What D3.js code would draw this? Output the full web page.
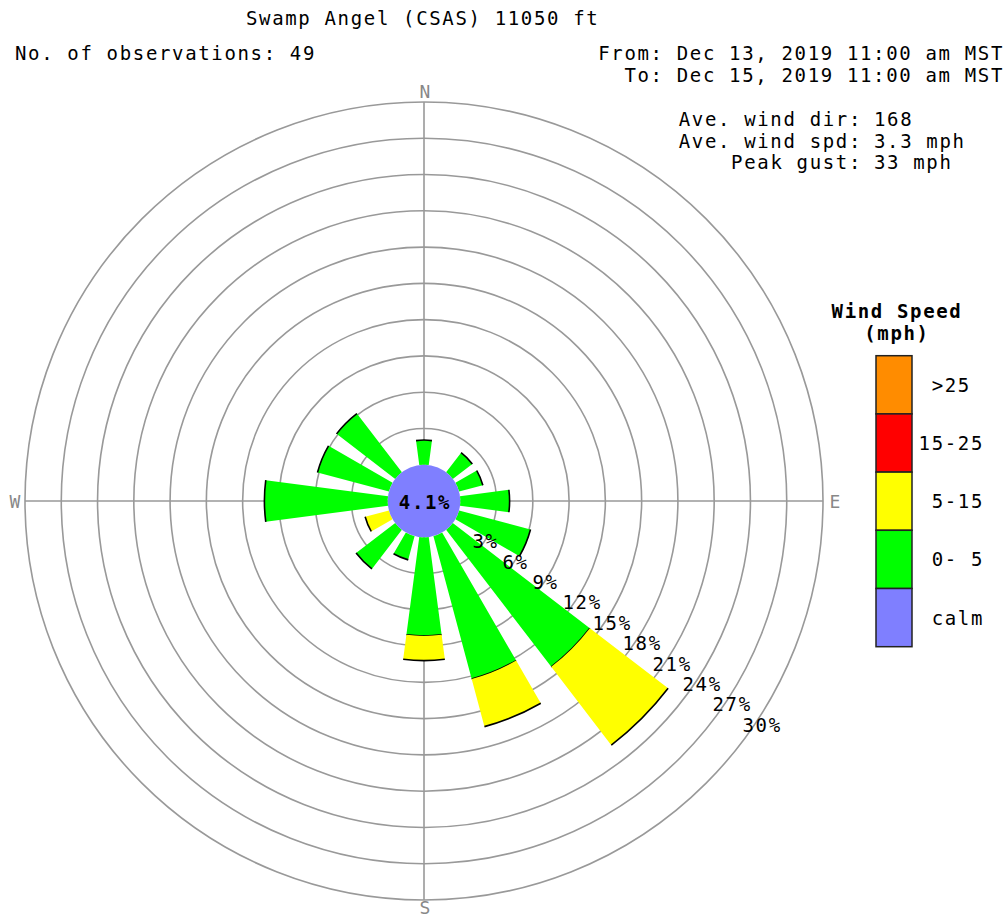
<!DOCTYPE html>
<html>
<head>
<meta charset="utf-8">
<script src="https://cdn.jsdelivr.net/npm/d3@7"></script>
<style>
  html, body { margin: 0; padding: 0; background: #fff; }
  svg { display: block; }
  text { font-family: "DejaVu Sans Mono", "Liberation Mono", monospace; font-size: 19px; letter-spacing: 1.65px; fill: #000; }
</style>
</head>
<body>
<script>
// ---------------- data ----------------
const title = "Swamp Angel (CSAS) 11050 ft";
const obsLabel = "No. of observations: 49";
const fromLabel = "From: Dec 13, 2019 11:00 am MST";
const toLabel = "To: Dec 15, 2019 11:00 am MST";
const statLabels = ["Ave. wind dir:", "Ave. wind spd:", "Peak gust:"];
const statValues = ["168", "3.3 mph", "33 mph"];

const directions = ["N","NNE","NE","ENE","E","ESE","SE","SSE","S","SSW","SW","WSW","W","WNW","NW","NNW"];
const calmPct = 4.1;
const speed0to5   = [2.04, 0, 2.04, 2.04, 4.08, 6.12, 14.29, 12.24, 8.16, 2.04, 4.08, 0, 10.2, 6.12, 6.12, 0];
const speed5to15  = [0, 0, 0, 0, 0, 0, 8.16, 4.08, 2.04, 0, 0, 2.04, 0, 0, 0, 0];
const speed15to25 = [0, 0, 0, 0, 0, 0, 0, 0, 0, 0, 0, 0, 0, 0, 0, 0];
const speedOver25 = [0, 0, 0, 0, 0, 0, 0, 0, 0, 0, 0, 0, 0, 0, 0, 0];

const ringTicks = [3, 6, 9, 12, 15, 18, 21, 24, 27, 30];
const compassLabels = ["N", "E", "S", "W"];
const compassAngles = [0, 90, 180, 270];

const legendTitle = ["Wind Speed", "(mph)"];
const legendKeys = [">25", "15-25", "5-15", "0- 5", "calm"];
const legendColors = ["#ff8c00", "#ff0000", "#ffff00", "#00ff00", "#7f7fff"];

// ---------------- layout ----------------
const W = 1008, H = 917;
const cx = 424, cy = 501, R = 399, r0 = R / 11;

const svg = d3.select("body").append("svg").attr("width", W).attr("height", H);

// header
svg.append("text").attr("x", 246).attr("y", 25).text(title);
svg.append("text").attr("x", 15).attr("y", 60).text(obsLabel);
svg.append("text").attr("x", 1004).attr("y", 60).attr("text-anchor", "end").text(fromLabel);
svg.append("text").attr("x", 1004).attr("y", 82).attr("text-anchor", "end").text(toLabel);
statLabels.forEach((s, i) => {
  const y = 126 + i * 21.5;
  svg.append("text").attr("x", 862).attr("y", y).attr("text-anchor", "end").text(s);
  svg.append("text").attr("x", 874).attr("y", y).text(statValues[i]);
});

// scales
const rScale = d3.scaleLinear().domain([0, 30]).range([r0, R]);
const aScale = d3.scaleBand().domain(directions)
  .range([-Math.PI / 16, 2 * Math.PI - Math.PI / 16])
  .paddingInner(1 / 3).paddingOuter(1 / 6);

const g = svg.append("g").attr("transform", `translate(${cx},${cy})`);

// grid rings
g.selectAll("circle.ring").data(ringTicks).join("circle")
  .attr("class", "ring")
  .attr("r", d => rScale(d))
  .attr("fill", "none").attr("stroke", "#999").attr("stroke-width", 1.6);

// cross lines
g.append("line").attr("x1", 0).attr("x2", 0).attr("y1", -R).attr("y2", R)
  .attr("stroke", "#999").attr("stroke-width", 1.6);
g.append("line").attr("x1", -R).attr("x2", R).attr("y1", 0).attr("y2", 0)
  .attr("stroke", "#999").attr("stroke-width", 1.6);

// compass labels
compassLabels.forEach((t, i) => {
  const a = compassAngles[i] * Math.PI / 180;
  const rr = t === "S" ? R + 7 : R + 11;
  g.append("text")
    .attr("x", Math.sin(a) * rr + 0.8).attr("y", -Math.cos(a) * rr)
    .attr("text-anchor", "middle").attr("dominant-baseline", "central")
    .style("fill", "#888").style("font-size", "18px").style("letter-spacing", "0px")
    .text(t);
});

// stacked petals
const keys = ["s0", "s1", "s2", "s3"];
const keyColors = ["#00ff00", "#ffff00", "#ff0000", "#ff8c00"];
const table = directions.map((d, i) => ({
  dir: d, s0: speed0to5[i], s1: speed5to15[i], s2: speed15to25[i], s3: speedOver25[i]
}));
const stacked = d3.stack().keys(keys)(table);

const arc = d3.arc();
stacked.forEach((layer, li) => {
  const segs = layer.map(s => ({ dir: s.data.dir, y0: s[0], y1: s[1] })).filter(s => s.y1 > s.y0);
  const gg = g.append("g");
  gg.selectAll("path.seg").data(segs).join("path")
    .attr("class", "seg")
    .attr("d", s => arc({
      innerRadius: rScale(s.y0), outerRadius: rScale(s.y1),
      startAngle: aScale(s.dir), endAngle: aScale(s.dir) + aScale.bandwidth()
    }))
    .attr("fill", keyColors[li]);
  gg.selectAll("path.edge").data(segs).join("path")
    .attr("class", "edge")
    .attr("d", s => arc({
      innerRadius: rScale(s.y1), outerRadius: rScale(s.y1),
      startAngle: aScale(s.dir), endAngle: aScale(s.dir) + aScale.bandwidth()
    }))
    .attr("fill", "none").attr("stroke", "#000").attr("stroke-width", 1.6);
});

// calm circle
g.append("circle").attr("r", rScale(0)).attr("fill", "#7f7fff");
g.append("text").attr("x", 1).attr("y", 1)
  .attr("text-anchor", "middle").attr("dominant-baseline", "central")
  .style("font-weight", "bold")
  .text(calmPct + "%");

// ring labels
const la = 34.2 * Math.PI / 180;
g.selectAll("text.rl").data(ringTicks).join("text")
  .attr("class", "rl")
  .attr("x", d => Math.cos(la) * rScale(d) - 11.5)
  .attr("y", d => Math.sin(la) * rScale(d) + 6.5)
  .text(d => d + "%");

// legend
svg.append("text").attr("x", 897).attr("y", 318).attr("text-anchor", "middle").style("font-weight", "bold").text(legendTitle[0]);
svg.append("text").attr("x", 897).attr("y", 340).attr("text-anchor", "middle").style("font-weight", "bold").text(legendTitle[1]);
const ly = d3.scaleBand().domain(legendKeys).range([355.7, 646.7]);
svg.selectAll("rect.lg").data(legendKeys).join("rect")
  .attr("class", "lg")
  .attr("x", 876).attr("width", 36)
  .attr("y", d => ly(d)).attr("height", ly.bandwidth())
  .attr("fill", (d, i) => legendColors[i])
  .attr("stroke", "#222").attr("stroke-width", 1.5);
svg.selectAll("text.lgl").data(legendKeys).join("text")
  .attr("class", "lgl")
  .attr("x", 984).attr("y", d => ly(d) + ly.bandwidth() / 2)
  .attr("text-anchor", "end").attr("dominant-baseline", "central")
  .style("white-space", "pre")
  .text(d => d === ">25" ? ">25 " : d);
</script>
</body>
</html>
